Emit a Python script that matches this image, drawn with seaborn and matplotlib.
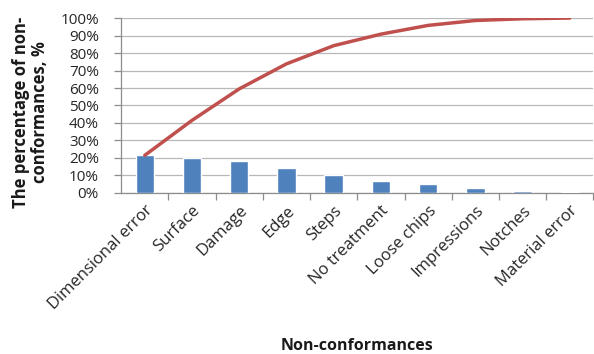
import matplotlib
matplotlib.use("Agg")
import matplotlib.pyplot as plt
import matplotlib.ticker as mticker
import numpy as np
import pandas as pd
import seaborn as sns

categories = ["Dimensional error", "Surface", "Damage", "Edge", "Steps",
              "No treatment", "Loose chips", "Impressions", "Notches", "Material error"]
share = [21.5, 20.0, 18.0, 14.3, 10.4, 6.6, 5.0, 2.8, 1.0, 0.4]
y_ticks = [0, 10, 20, 30, 40, 50, 60, 70, 80, 90, 100]

df = pd.DataFrame({"category": categories, "share": share})
df["cumulative"] = np.cumsum(df["share"]) / df["share"].sum() * 100

sns.set_theme(style="white")
plt.rcParams["font.family"] = ["Open Sans", "DejaVu Sans"]

fig = plt.figure(figsize=(5.94, 3.54), dpi=100)
ax = fig.add_axes([0.204, 0.455, 0.795, 0.494])

sns.barplot(data=df, x="category", y="share", color="#4F81BD", width=0.39,
            saturation=1, ax=ax, zorder=3)
sns.lineplot(x=np.arange(len(categories)), y=df["cumulative"], color="#C0504D",
             linewidth=2.5, ax=ax, zorder=4)

ax.set_xlim(-0.5, len(categories) - 0.5)
ax.set_ylim(0, 100)
ax.set_yticks(y_ticks)
ax.yaxis.set_major_formatter(mticker.FuncFormatter(lambda v, _: f"{v:.0f}%"))
ax.grid(axis="y", color="#B8B8B8", linewidth=0.9, zorder=0)
ax.set_axisbelow(True)

for s in ["top", "right"]:
    ax.spines[s].set_visible(False)
for s in ["left", "bottom"]:
    ax.spines[s].set_color("#8C8C8C")
    ax.spines[s].set_linewidth(0.9)

ax.tick_params(axis="y", length=5, color="#8C8C8C", width=0.9, labelsize=11,
               pad=11, labelcolor="#262626", left=True)
ax.set_xticks(np.arange(len(categories)))
ax.set_xticklabels(categories, rotation=45, ha="right", rotation_mode="anchor",
                   fontsize=12, color="#262626")
ax.tick_params(axis="x", which="major", length=0, pad=7)
ax.set_xticks(np.arange(len(categories)) + 0.5, minor=True)
ax.tick_params(axis="x", which="minor", length=5, color="#8C8C8C", width=0.9, bottom=True)

ax.set_xlabel("Non-conformances", fontsize=11.5, fontweight="bold", color="#1a1a1a")
ax.xaxis.set_label_coords(0.5, -0.83)
ax.set_ylabel("The percentage of non-\nconformances, %", fontsize=12,
              fontweight="bold", color="#1a1a1a", linespacing=1.05)
ax.yaxis.set_label_coords(-0.153, 0.46)

fig.savefig("out.png", dpi=100, facecolor="white")
